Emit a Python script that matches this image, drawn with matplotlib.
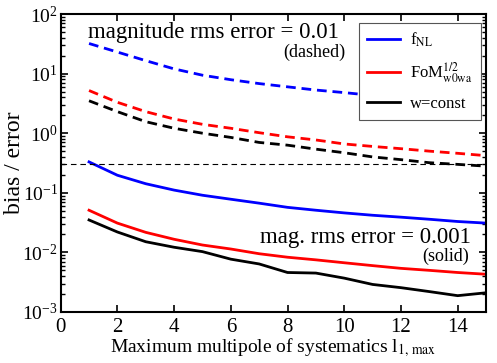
import matplotlib
matplotlib.use("Agg")
import matplotlib.pyplot as plt
from matplotlib.ticker import LogLocator, NullFormatter, MultipleLocator

plt.rcParams['font.family'] = ['Liberation Serif', 'DejaVu Serif']
plt.rcParams['mathtext.fontset'] = 'stix'

# multipole l_1,max
ell = [1, 2, 3, 4, 5, 6, 7, 8, 9, 10, 11, 12, 13, 14, 15]

# dashed: magnitude rms error = 0.01
fnl_dashed = [32, 23, 16.5, 12, 9.4, 7.9, 6.8, 6.0, 5.3, 4.8, 4.3, 3.9, 3.6, 3.4, 3.2]
fom_dashed = [5.2, 3.3, 2.3, 1.73, 1.41, 1.21, 1.02, 0.87, 0.77, 0.66, 0.60, 0.55, 0.50, 0.46, 0.42]
w_dashed = [3.5, 2.3, 1.56, 1.21, 1.0, 0.85, 0.70, 0.63, 0.54, 0.47, 0.40, 0.36, 0.32, 0.30, 0.28]

# solid: mag. rms error = 0.001
fnl_solid = [0.33, 0.197, 0.142, 0.111, 0.091, 0.078, 0.067, 0.057, 0.051, 0.046, 0.042, 0.039, 0.036, 0.033, 0.031]
fom_solid = [0.051, 0.031, 0.0217, 0.0166, 0.0133, 0.0114, 0.0095, 0.0083, 0.0075, 0.0067, 0.0060, 0.0054, 0.0050, 0.0046, 0.0043]
w_solid = [0.035, 0.022, 0.0151, 0.0122, 0.0103, 0.0077, 0.0064, 0.0046, 0.0045, 0.0037, 0.0029, 0.00256, 0.0022, 0.00188, 0.0021]

threshold = 0.3

fig = plt.figure(figsize=(4.97, 3.63), dpi=100)
ax = fig.add_axes([0.1221, 0.1405, 0.8558, 0.8209])

lw = 2.0
dash = (0, (3.5, 2.1))
ax.plot(ell, fnl_solid, color='#0000ff', lw=lw, label=r'f$_{\rm NL}$')
ax.plot(ell, fom_solid, color='#ff0000', lw=lw, label=r'FoM$_{\rm w0wa}^{1/2}$')
ax.plot(ell, w_solid, color='black', lw=lw, label='w=const')
ax.plot(ell, fnl_dashed, color='#0000ff', lw=lw, ls=dash)
ax.plot(ell, fom_dashed, color='#ff0000', lw=lw, ls=dash)
ax.plot(ell, w_dashed, color='black', lw=lw, ls=dash)
ax.axhline(threshold, color='black', lw=0.8, ls=(0, (5, 3.5)))

ax.set_yscale('log')
ax.set_xlim(0, 15)
ax.set_ylim(1e-3, 1e2)
ax.xaxis.set_major_locator(MultipleLocator(2))
ax.yaxis.set_major_locator(LogLocator(base=10, numticks=10))
ax.yaxis.set_minor_locator(LogLocator(base=10, subs=range(2, 10), numticks=10))
ax.yaxis.set_minor_formatter(NullFormatter())

ax.tick_params(which='both', direction='in', top=True, right=True)
ax.tick_params(which='major', length=5, width=1.2)
ax.tick_params(which='minor', length=3, width=1)
ax.tick_params(axis='x', pad=4, labelsize=15)
ax.tick_params(axis='y', pad=2, labelsize=14)
for s in ax.spines.values():
    s.set_linewidth(1.5)

ax.set_xlabel(r'Maximum multipole of systematics l$_{\rm 1,\,max}$', fontsize=14, labelpad=0)
ax.set_ylabel('bias / error', fontsize=17)
ax.yaxis.set_label_coords(-0.083, 0.5)

ax.text(0.064, 0.918, 'magnitude rms error = 0.01', transform=ax.transAxes,
        fontsize=16.5, va='baseline', ha='left')
ax.text(0.670, 0.856, '(dashed)', transform=ax.transAxes,
        fontsize=13, va='baseline', ha='right')
ax.text(0.965, 0.231, 'mag. rms error = 0.001', transform=ax.transAxes,
        fontsize=16.5, va='baseline', ha='right')
ax.text(0.960, 0.170, '(solid)', transform=ax.transAxes,
        fontsize=13, va='baseline', ha='right')

leg = ax.legend(loc='upper right', bbox_to_anchor=(0.988, 0.971), borderaxespad=0,
                fontsize=12, fancybox=False, framealpha=1, edgecolor='#555555',
                handlelength=2.0, handletextpad=0.6, borderpad=0.5,
                labelspacing=0.65)
leg.get_frame().set_linewidth(0.8)

fig.savefig('out.png', dpi=100)
